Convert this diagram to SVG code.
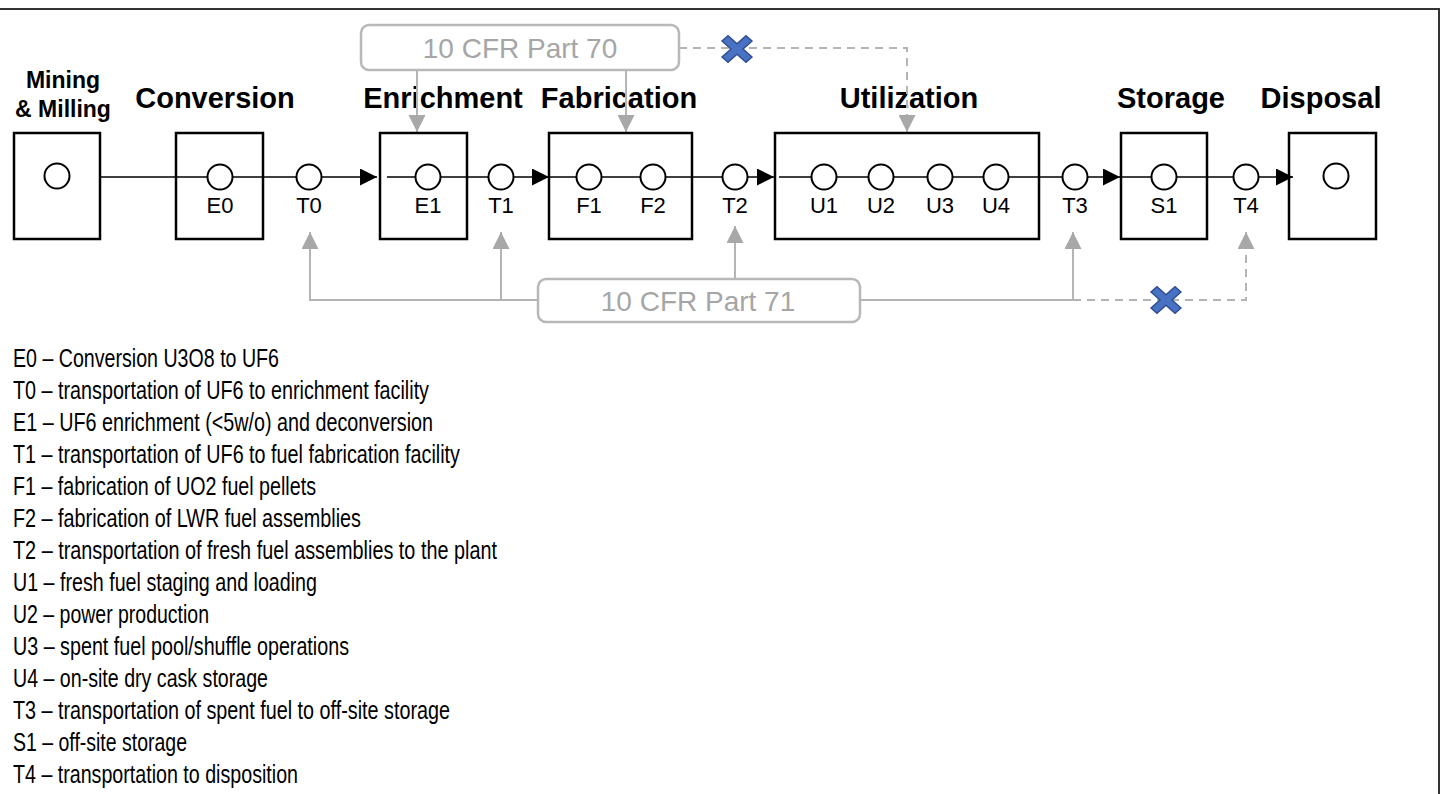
<svg xmlns="http://www.w3.org/2000/svg" width="1440" height="794" viewBox="0 0 1440 794">
  <style>
    .frame { stroke: #333; stroke-width: 2; fill: none; }
    .box { fill: none; stroke: #000; stroke-width: 2.5; }
    .pt { fill: #fff; stroke: #000; stroke-width: 2; }
    .flow { stroke: #000; stroke-width: 1.6; fill: none; }
    .reg { stroke: #b4b4b4; stroke-width: 2; fill: none; }
    .regdash { stroke: #b4b4b4; stroke-width: 2; fill: none; stroke-dasharray: 8 6; }
    .regbox { fill: #fff; stroke: #b8b8b8; stroke-width: 2.5; }
    .regtxt { font-family: "Liberation Sans", Arial, sans-serif; font-size: 28px; fill: #a6a6a6; text-anchor: middle; }
    .head { font-family: "Liberation Sans", Arial, sans-serif; font-size: 29px; font-weight: bold; fill: #000; text-anchor: middle; }
    .head2 { font-family: "Liberation Sans", Arial, sans-serif; font-size: 23px; font-weight: bold; fill: #000; text-anchor: middle; }
    .lbl { font-family: "Liberation Sans", Arial, sans-serif; font-size: 22px; fill: #000; text-anchor: middle; }
    .leg { font-family: "Liberation Sans", Arial, sans-serif; font-size: 25px; fill: #000; }
    .cross { fill: #4a72c4; stroke: #2e4f91; stroke-width: 1.5; }
  </style>
  <defs>
    <marker id="blk" markerUnits="userSpaceOnUse" markerWidth="17" markerHeight="17" refX="17" refY="8.5" orient="auto">
      <path d="M0,0 L17,8.5 L0,17 z" fill="#000"/>
    </marker>
    <marker id="gry" markerUnits="userSpaceOnUse" markerWidth="17" markerHeight="17" refX="17" refY="8.5" orient="auto">
      <path d="M0,0 L17,8.5 L0,17 z" fill="#a8a8a8"/>
    </marker>
    <polygon id="x" points="-15,-9 -9,-15 0,-6 9,-15 15,-9 6,0 15,9 9,15 0,6 -9,15 -15,9 -6,0" transform="scale(1,0.88)"/>
  </defs>

  <rect width="1440" height="794" fill="#fff"/>
  <path class="frame" d="M0,9 H1439 V794"/>

  <!-- stage headings -->
  <g id="headings">
    <text class="head2" x="63" y="88">Mining</text>
    <text class="head2" x="63" y="117">&amp; Milling</text>
    <text class="head" x="215" y="108">Conversion</text>
    <text class="head" x="443" y="108">Enrichment</text>
    <text class="head" x="619" y="108">Fabrication</text>
    <text class="head" x="909" y="108">Utilization</text>
    <text class="head" x="1171" y="108">Storage</text>
    <text class="head" x="1321" y="108">Disposal</text>
  </g>

  <!-- material flow -->
  <g id="connectors">
    <path class="flow" d="M100,177 H377" marker-end="url(#blk)"/>
    <path class="flow" d="M387,177 H549" marker-end="url(#blk)"/>
    <path class="flow" d="M549,177 H774" marker-end="url(#blk)"/>
    <path class="flow" d="M779,177 H1120" marker-end="url(#blk)"/>
    <path class="flow" d="M1120,177 H1293" marker-end="url(#blk)"/>

    <!-- Part 70 coverage -->
    <path class="reg" d="M417,70 V132" marker-end="url(#gry)"/>
    <path class="reg" d="M626,70 V132" marker-end="url(#gry)"/>
    <path class="regdash" d="M679,48 H907 V132" marker-end="url(#gry)"/>

    <!-- Part 71 coverage -->
    <path class="reg" d="M538,300 H310 V232" marker-end="url(#gry)"/>
    <path class="reg" d="M501,300 V232" marker-end="url(#gry)"/>
    <path class="reg" d="M735,279 V226" marker-end="url(#gry)"/>
    <path class="reg" d="M860,300 H1073 V232" marker-end="url(#gry)"/>
    <path class="regdash" d="M1073,300 H1246 V232" marker-end="url(#gry)"/>
  </g>

  <!-- facility boxes -->
  <g id="mining"><rect class="box" x="14" y="133" width="86" height="106"/><circle class="pt" cx="57" cy="176" r="12.5"/></g>
  <g id="conversion"><rect class="box" x="176" y="133" width="87" height="106"/></g>
  <g id="enrichment"><rect class="box" x="380" y="133" width="87" height="106"/></g>
  <g id="fabrication"><rect class="box" x="549" y="133" width="143" height="106"/></g>
  <g id="utilization"><rect class="box" x="775" y="133" width="264" height="106"/></g>
  <g id="storage"><rect class="box" x="1121" y="133" width="86" height="106"/></g>
  <g id="disposal"><rect class="box" x="1289" y="133" width="87" height="106"/><circle class="pt" cx="1336" cy="176" r="12.5"/></g>

  <!-- process points -->
  <g id="E0"><circle class="pt" cx="220" cy="177" r="12.5"/><text class="lbl" x="220" y="213">E0</text></g>
  <g id="T0"><circle class="pt" cx="309" cy="177" r="12.5"/><text class="lbl" x="309" y="213">T0</text></g>
  <g id="E1"><circle class="pt" cx="428" cy="177" r="12.5"/><text class="lbl" x="428" y="213">E1</text></g>
  <g id="T1"><circle class="pt" cx="501" cy="177" r="12.5"/><text class="lbl" x="501" y="213">T1</text></g>
  <g id="F1"><circle class="pt" cx="589" cy="177" r="12.5"/><text class="lbl" x="589" y="213">F1</text></g>
  <g id="F2"><circle class="pt" cx="653" cy="177" r="12.5"/><text class="lbl" x="653" y="213">F2</text></g>
  <g id="T2"><circle class="pt" cx="735" cy="177" r="12.5"/><text class="lbl" x="735" y="213">T2</text></g>
  <g id="U1"><circle class="pt" cx="824" cy="177" r="12.5"/><text class="lbl" x="824" y="213">U1</text></g>
  <g id="U2"><circle class="pt" cx="881" cy="177" r="12.5"/><text class="lbl" x="881" y="213">U2</text></g>
  <g id="U3"><circle class="pt" cx="940" cy="177" r="12.5"/><text class="lbl" x="940" y="213">U3</text></g>
  <g id="U4"><circle class="pt" cx="996" cy="177" r="12.5"/><text class="lbl" x="996" y="213">U4</text></g>
  <g id="T3"><circle class="pt" cx="1075" cy="177" r="12.5"/><text class="lbl" x="1075" y="213">T3</text></g>
  <g id="S1"><circle class="pt" cx="1164" cy="177" r="12.5"/><text class="lbl" x="1164" y="213">S1</text></g>
  <g id="T4"><circle class="pt" cx="1246" cy="177" r="12.5"/><text class="lbl" x="1246" y="213">T4</text></g>

  <!-- regulation boxes -->
  <g id="part70">
    <rect class="regbox" x="361" y="25" width="318" height="45" rx="8"/>
    <text class="regtxt" x="520" y="58">10 CFR Part 70</text>
  </g>
  <g id="part71">
    <rect class="regbox" x="538" y="279" width="322" height="43" rx="8"/>
    <text class="regtxt" x="698" y="311">10 CFR Part 71</text>
  </g>

  <!-- excluded coverage marks -->
  <g id="x70" class="cross" transform="translate(737,49)"><use href="#x"/></g>
  <g id="x71" class="cross" transform="translate(1166,300)"><use href="#x"/></g>

  <!-- legend -->
  <g id="legend" class="leg">
    <text x="13" y="366.5" textLength="266" lengthAdjust="spacingAndGlyphs">E0 – Conversion U3O8 to UF6</text>
    <text x="13" y="398.5" textLength="416" lengthAdjust="spacingAndGlyphs">T0 – transportation of UF6 to enrichment facility</text>
    <text x="13" y="430.5" textLength="420" lengthAdjust="spacingAndGlyphs">E1 – UF6 enrichment (&lt;5w/o) and deconversion</text>
    <text x="13" y="462.5" textLength="447" lengthAdjust="spacingAndGlyphs">T1 – transportation of UF6 to fuel fabrication facility</text>
    <text x="13" y="494.5" textLength="303" lengthAdjust="spacingAndGlyphs">F1 – fabrication of UO2 fuel pellets</text>
    <text x="13" y="526.5" textLength="348" lengthAdjust="spacingAndGlyphs">F2 – fabrication of LWR fuel assemblies</text>
    <text x="13" y="558.5" textLength="484" lengthAdjust="spacingAndGlyphs">T2 – transportation of fresh fuel assemblies to the plant</text>
    <text x="13" y="590.5" textLength="304" lengthAdjust="spacingAndGlyphs">U1 – fresh fuel staging and loading</text>
    <text x="13" y="622.5" textLength="196" lengthAdjust="spacingAndGlyphs">U2 – power production</text>
    <text x="13" y="654.5" textLength="336" lengthAdjust="spacingAndGlyphs">U3 – spent fuel pool/shuffle operations</text>
    <text x="13" y="686.5" textLength="255" lengthAdjust="spacingAndGlyphs">U4 – on-site dry cask storage</text>
    <text x="13" y="718.5" textLength="437" lengthAdjust="spacingAndGlyphs">T3 – transportation of spent fuel to off-site storage</text>
    <text x="13" y="750.5" textLength="174" lengthAdjust="spacingAndGlyphs">S1 – off-site storage</text>
    <text x="13" y="782.5" textLength="285" lengthAdjust="spacingAndGlyphs">T4 – transportation to disposition</text>
  </g>
</svg>
